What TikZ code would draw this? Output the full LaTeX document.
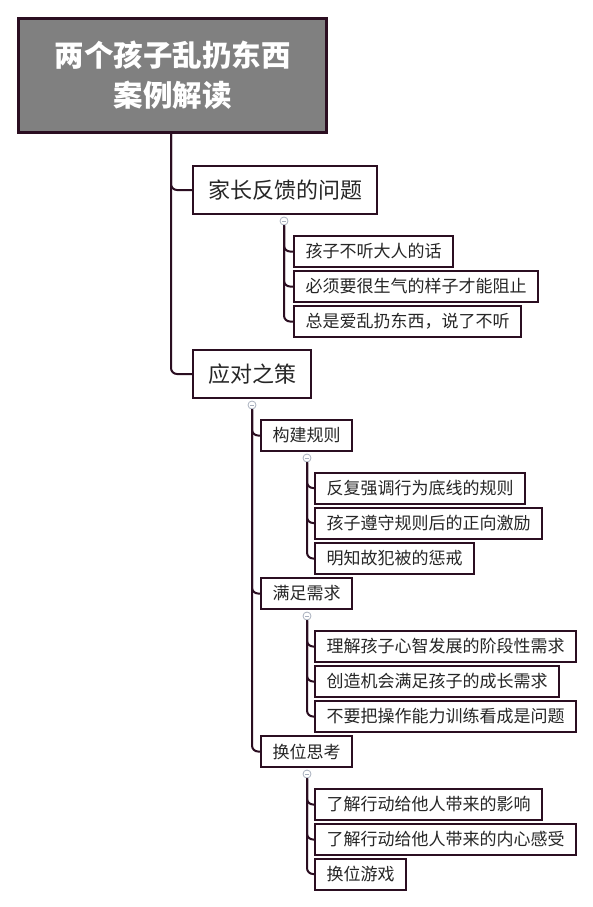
\documentclass[tikz,border=0pt]{standalone}
\usepackage{fontspec}
\newfontfamily\cjk{Noto Sans CJK SC}
\definecolor{lc}{HTML}{2B0E21}
\definecolor{rootfill}{HTML}{808080}
\definecolor{cc}{HTML}{A8B0BE}
\tikzset{
  rootbox/.style={draw=lc, line width=3pt, fill=rootfill, text=white,
    font=\cjk\bfseries\fontsize{29.5}{40}\selectfont, align=center,
    minimum width=308pt, minimum height=114pt, inner sep=0pt, anchor=north west},
  lonebox/.style={draw=lc, line width=2pt, fill=white, text=black!85,
    font=\cjk\fontsize{22}{26}\selectfont, inner xsep=15pt, inner ysep=0pt,
    minimum height=48pt, anchor=west},
  ltwobox/.style={draw=lc, line width=2pt, fill=white, text=black!85,
    font=\cjk\fontsize{17}{20}\selectfont, inner xsep=11.5pt, inner ysep=0pt,
    minimum height=31pt, anchor=west},
  link/.style={draw=lc, line width=2pt, rounded corners=6pt},
  collapse/.style={circle, draw=cc, line width=0.8pt, fill=white,
    minimum size=8pt, inner sep=0pt,
    path picture={\draw[cc, line width=0.8pt] ([xshift=-2pt]path picture bounding box.center) -- ([xshift=2pt]path picture bounding box.center);}}
}
\begin{document}
\begin{tikzpicture}[x=1pt,y=-1pt]
\useasboundingbox (0,0) rectangle (593,907);
% root
\node[rootbox] (root) at (17,17) {两个孩子乱扔东西\\案例解读};
% level 1
\node[lonebox] (fk) at (192,190) {家长反馈的问题};
\node[lonebox] (yd) at (192,374) {应对之策};
% level 2 under fk
\node[ltwobox] (a1) at (293,251.5) {孩子不听大人的话};
\node[ltwobox] (a2) at (293,286.5) {必须要很生气的样子才能阻止};
\node[ltwobox] (a3) at (293,321.5) {总是爱乱扔东西，说了不听};
% level 2 under yd
\node[ltwobox] (b1) at (260,435.5) {构建规则};
\node[ltwobox] (b2) at (260,593.5) {满足需求};
\node[ltwobox] (b3) at (260,751.5) {换位思考};
% level 3
\node[ltwobox] (c1) at (314,488) {反复强调行为底线的规则};
\node[ltwobox] (c2) at (314,523) {孩子遵守规则后的正向激励};
\node[ltwobox] (c3) at (314,558.5) {明知故犯被的惩戒};
\node[ltwobox] (d1) at (314,646.5) {理解孩子心智发展的阶段性需求};
\node[ltwobox] (d2) at (314,681.5) {创造机会满足孩子的成长需求};
\node[ltwobox] (d3) at (314,716.5) {不要把操作能力训练看成是问题};
\node[ltwobox] (e1) at (314,804.5) {了解行动给他人带来的影响};
\node[ltwobox] (e2) at (314,839.5) {了解行动给他人带来的内心感受};
\node[ltwobox] (e3) at (314,874) {换位游戏};
% collapse markers
\node[collapse] (k1) at (284,221) {};
\node[collapse] (k2) at (252,405) {};
\node[collapse] (k3) at (307,458) {};
\node[collapse] (k4) at (307,616) {};
\node[collapse] (k5) at (307,774) {};
% root connectors
\coordinate (rs) at (171,131);
\draw[link] (rs) |- (yd.west);
\draw[link] (rs) |- (fk.west);
% fk children
\draw[link] (k1.south) |- (a3.west);
\draw[link] (k1.south) |- (a2.west);
\draw[link] (k1.south) |- (a1.west);
% yd children
\draw[link] (k2.south) |- (b3.west);
\draw[link] (k2.south) |- (b2.west);
\draw[link] (k2.south) |- (b1.west);
% b1 children
\draw[link] (k3.south) |- (c3.west);
\draw[link] (k3.south) |- (c2.west);
\draw[link] (k3.south) |- (c1.west);
% b2 children
\draw[link] (k4.south) |- (d3.west);
\draw[link] (k4.south) |- (d2.west);
\draw[link] (k4.south) |- (d1.west);
% b3 children
\draw[link] (k5.south) |- (e3.west);
\draw[link] (k5.south) |- (e2.west);
\draw[link] (k5.south) |- (e1.west);
\end{tikzpicture}
\end{document}
